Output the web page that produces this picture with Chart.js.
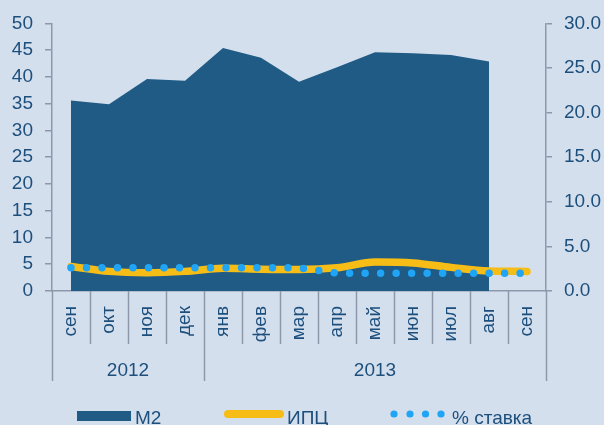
<!DOCTYPE html>
<html><head><meta charset="utf-8">
<script src="https://cdn.jsdelivr.net/npm/chart.js@4"></script>
<style>
html,body{margin:0;padding:0;background:#D4DFEE;}
#wrap{width:604px;height:425px;position:relative;}
</style></head>
<body><div id="wrap"><canvas id="c" width="604" height="425"></canvas></div>
<script>
const months = ['сен','окт','ноя','дек','янв','фев','мар','апр','май','июн','июл','авг','сен'];
const years = ['2012','2013'];
const yearSpans = [4, 9];
const m2 = [35.6, 34.9, 39.6, 39.3, 45.4, 43.6, 39.1, 41.8, 44.6, 44.4, 44.1, 42.9, null];
const cpi = [2.75, 2.2, 2.05, 2.2, 2.55, 2.45, 2.4, 2.6, 3.25, 3.15, 2.65, 2.25, 2.2];
const rate = [2.6, 2.6, 2.6, 2.6, 2.6, 2.6, 2.6, 2.0, 2.0, 2.0, 2.0, 2.0, 2.0];
const leftTicks = [0,5,10,15,20,25,30,35,40,45,50];
const rightTicks = [0,5,10,15,20,25,30];
const legendLabels = ['M2','ИПЦ','% ставка'];

const TXT = '#1D4F7C', GRAY = '#8D98AB', AREA = '#1F5B85', YEL = '#F6BD17', DOT = '#1FA4F6';
const FONT = '"Liberation Sans", Arial, sans-serif';

const extras = {
  id: 'extras',
  beforeDatasetDraw(chart, args) {
    if (args.index === 0) {
      const c = chart.ctx; c.save();
      c.shadowColor = 'rgba(0,0,0,0.35)'; c.shadowBlur = 3; c.shadowOffsetX = 2; c.shadowOffsetY = 2;
    }
  },
  afterDatasetDraw(chart, args) {
    if (args.index === 0) chart.ctx.restore();
  },
  afterDraw(chart) {
    const c = chart.ctx, x = chart.scales.x, a = chart.chartArea;
    const n = months.length;
    const b = [];
    for (let i = 0; i <= n; i++) {
      if (i === 0) b.push(a.left);
      else if (i === n) b.push(a.right);
      else b.push((x.getPixelForValue(i - 1) + x.getPixelForValue(i)) / 2);
    }
    const yearIdx = [0];
    let acc = 0; yearSpans.forEach(s => { acc += s; yearIdx.push(acc); });
    c.save();
    c.strokeStyle = GRAY; c.lineWidth = 1.5;
    b.forEach((px, i) => {
      const big = yearIdx.includes(i);
      c.beginPath(); c.moveTo(Math.round(px) + 0.5, a.bottom); c.lineTo(Math.round(px) + 0.5, a.bottom + (big ? 90 : 53)); c.stroke();
    });
    c.fillStyle = TXT; c.font = '19px ' + FONT; c.textAlign = 'center'; c.textBaseline = 'middle';
    years.forEach((y, k) => {
      const cx = (b[yearIdx[k]] + b[yearIdx[k + 1]]) / 2;
      c.fillText(y, cx, a.bottom + 80);
    });
    // legend
    c.textAlign = 'left'; c.textBaseline = 'alphabetic';
    c.fillStyle = AREA; c.fillRect(77, 411, 54, 10);
    c.fillStyle = TXT; c.fillText(legendLabels[0], 135, 424);
    c.strokeStyle = YEL; c.lineWidth = 8; c.lineCap = 'round';
    c.beginPath(); c.moveTo(228, 414); c.lineTo(280, 414); c.stroke();
    c.fillText(legendLabels[1], 287, 424);
    c.fillStyle = DOT;
    [394, 410, 425.5, 441].forEach(px => { c.beginPath(); c.arc(px, 414, 3.6, 0, Math.PI * 2); c.fill(); });
    c.fillStyle = TXT; c.fillText(legendLabels[2], 452, 424);
    c.restore();
  }
};

new Chart(document.getElementById('c'), {
  type: 'line',
  data: {
    labels: months,
    datasets: [
      { label: 'M2', data: m2, yAxisID: 'y', fill: 'origin', backgroundColor: AREA, borderWidth: 0, pointRadius: 0, tension: 0, order: 2 },
      { label: 'ИПЦ', data: cpi, yAxisID: 'y1', fill: false, borderColor: YEL, borderWidth: 7.5, borderCapStyle: 'round', pointRadius: 0, tension: 0.4, cubicInterpolationMode: 'monotone', order: 1 },
      { label: '% ставка', data: rate, yAxisID: 'y1', fill: false, borderColor: DOT, borderWidth: 7.5, borderCapStyle: 'round', borderDash: [0, 15.5], pointRadius: 0, tension: 0, order: 0 }
    ]
  },
  options: {
    responsive: false, animation: false,
    layout: { padding: { top: 18, bottom: 0, left: 0, right: 0 } },
    plugins: { legend: { display: false }, tooltip: { enabled: false } },
    scales: {
      x: {
        offset: true,
        grid: { display: false, drawTicks: false },
        border: { display: true, color: GRAY, width: 1.5 },
        ticks: { color: TXT, font: { size: 19, family: FONT }, maxRotation: 90, minRotation: 90, padding: 15, autoSkip: false },
        afterFit(s) { s.height = 134; }
      },
      y: {
        position: 'left', min: 0, max: 50,
        afterBuildTicks(s) { s.ticks = leftTicks.map(v => ({ value: v })); },
        grid: { drawOnChartArea: false, drawTicks: true, tickLength: 7, color: GRAY, lineWidth: 1.5 },
        border: { display: true, color: GRAY, width: 1.5 },
        ticks: { color: TXT, font: { size: 19, family: FONT }, padding: 12 },
        afterFit(s) { s.width = 52; }
      },
      y1: {
        position: 'right', min: 0, max: 30,
        afterBuildTicks(s) { s.ticks = rightTicks.map(v => ({ value: v })); },
        grid: { drawOnChartArea: false, drawTicks: true, tickLength: 6, color: GRAY, lineWidth: 1.5 },
        border: { display: true, color: GRAY, width: 1.5 },
        ticks: { color: TXT, font: { size: 19, family: FONT }, padding: 12, callback: v => v.toFixed(1) },
        afterFit(s) { s.width = 58; }
      }
    }
  },
  plugins: [extras]
});
</script></body></html>
